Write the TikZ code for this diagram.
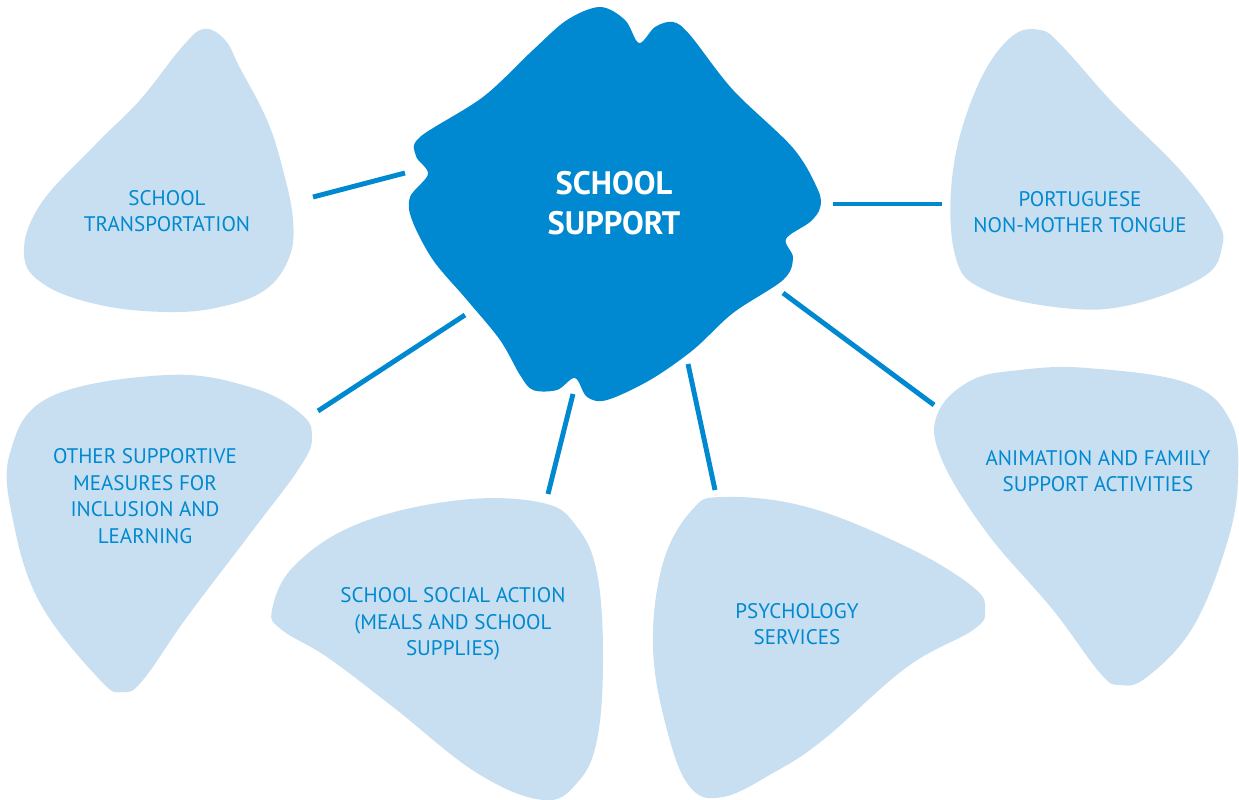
\documentclass[tikz,border=0pt]{standalone}
\usepackage{fontspec}
\setmainfont{PT Sans}
\usepackage{tikz}
\usetikzlibrary{calc}
\usetikzlibrary{positioning}

\definecolor{hubblue}{RGB}{0,137,208}
\definecolor{blobblue}{RGB}{199,223,241}

\tikzset{
	hubshape/.style={fill=hubblue},
	blobshape/.style={fill=blobblue},
	link/.style={draw=hubblue, line width=2.8pt},
	topic/.style={text=hubblue, align=center, font=\fontsize{12}{15.2}\selectfont},
	hubtext/.style={text=white, align=center, font=\fontsize{18.5}{22.5}\selectfont\bfseries}
}

\begin{document}
\begin{tikzpicture}[x=0.02cm, y=-0.02cm]
				\useasboundingbox (0,0) rectangle (1239,800);
				
				\fill[blobshape] plot[smooth cycle, tension=0.65] coordinates {(204,29) (225,40) (240,68) (267,120) (283,170) (293,220) (289,258) (265,290) (220,307) (167,312) (100,305) (45,285) (24,255) (40,205) (95,145) (140,100) (182,47)};
				\fill[blobshape] plot[smooth cycle, tension=0.65] coordinates {(1040,30) (1063,47) (1113,103) (1180,170) (1217,220) (1222,247) (1203,277) (1130,305) (1063,308) (985,290) (955,255) (953,170) (977,87) (1010,38)};
				\fill[blobshape] plot[smooth cycle, tension=0.65] coordinates {(167,375) (250,387) (300,413) (312,437) (300,467) (253,530) (187,617) (143,680) (123,692) (100,680) (40,603) (13,520) (10,453) (50,397)};
				\fill[blobshape] plot[smooth cycle, tension=0.65] coordinates {(272,610) (295,565) (360,523) (460,500) (543,503) (577,527) (597,573) (603,657) (597,740) (577,783) (543,800) (477,773) (393,707) (327,657) (282,630)};
				\fill[blobshape] plot[smooth cycle, tension=0.65] coordinates {(723,497) (807,507) (907,547) (973,587) (985,610) (973,630) (907,667) (823,740) (773,773) (723,797) (690,787) (667,730) (653,647) (663,563) (692,510)};
				\fill[blobshape] plot[smooth cycle, tension=0.65] coordinates {(1087,368) (1187,383) (1230,420) (1238,477) (1227,543) (1193,627) (1147,677) (1120,685) (1100,673) (1053,610) (987,533) (942,460) (937,415) (970,381) (1020,370)};
				
				\fill[hubshape] plot[smooth cycle, tension=0.55] coordinates {(600,7) (625,20) (639,43) (655,27) (673,22) (690,35) (733,90) (793,148) (818,190) (820,208) (810,222) (786,239) (793,258) (783,280) (733,313) (693,350) (650,380) (607,400) (587,397) (575,378) (557,390) (533,390) (520,375) (500,340) (467,300) (433,260) (412,220) (410,197) (428,174) (416,156) (420,137) (483,97) (533,50) (567,20)};
				
				\node[hubtext] (hub) at (614,203) {SCHOOL\\SUPPORT};
				\node[topic] (trans) at (167,211) {SCHOOL\\TRANSPORTATION};
				\node[topic] (plnm) at (1080,212) {PORTUGUESE\\NON-MOTHER TONGUE};
				\node[topic] (other) at (145,496) {OTHER SUPPORTIVE\\MEASURES FOR\\INCLUSION AND\\LEARNING};
				\node[topic] (social) at (453,624) {SCHOOL SOCIAL ACTION\\(MEALS AND SCHOOL\\SUPPLIES)};
				\node[topic] (psych) at (797,624) {PSYCHOLOGY\\SERVICES};
				\node[topic] (family) at (1098,471) {ANIMATION AND FAMILY\\SUPPORT ACTIVITIES};
				
				\coordinate (t1) at (313,197);
				\coordinate (h1) at (405,173);
				\coordinate (t2) at (942,204);
				\coordinate (h2) at (833,204);
				\coordinate (t3) at (318,411);
				\coordinate (h3) at (465,315);
				\coordinate (t4) at (548,494);
				\coordinate (h4) at (573,394);
				\coordinate (t5) at (715,490);
				\coordinate (h5) at (688,364);
				\coordinate (t6) at (934,405);
				\coordinate (h6) at (783,293);
				
				\draw[link] (h1) -- (t1);
				\draw[link] (h2) -- (t2);
				\draw[link] (h3) -- (t3);
				\draw[link] (h4) -- (t4);
				\draw[link] (h5) -- (t5);
				\draw[link] (h6) -- (t6);
			\end{tikzpicture}
\end{document}
